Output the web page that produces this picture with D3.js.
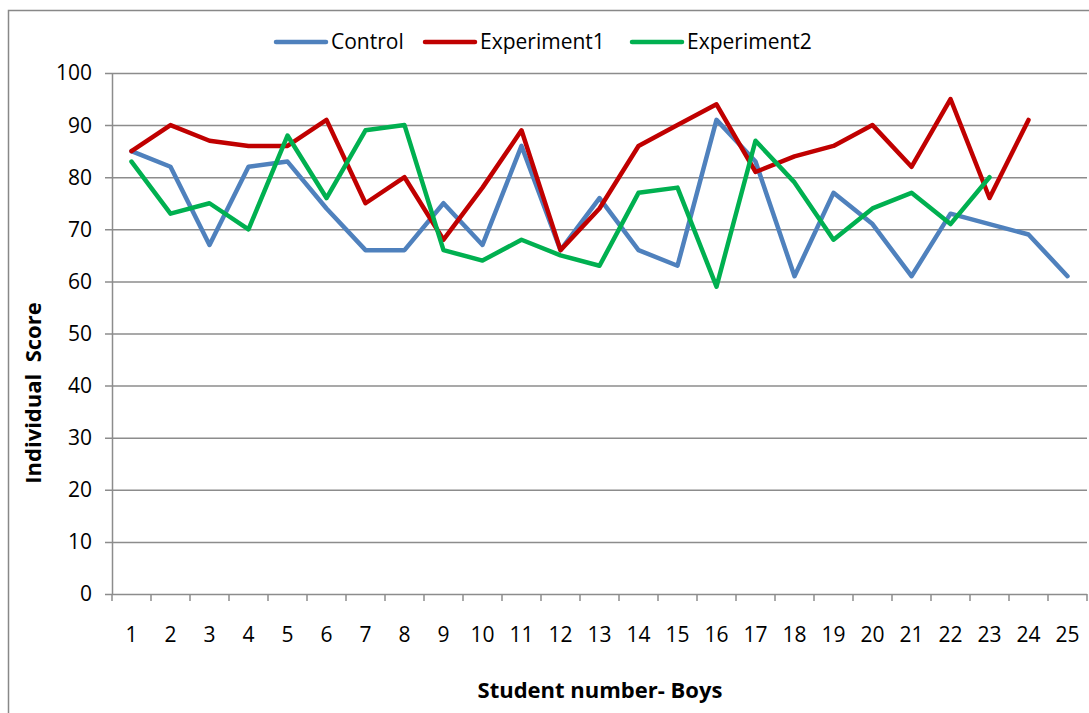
<!DOCTYPE html>
<html>
<head>
<meta charset="utf-8">
<script src="https://cdn.jsdelivr.net/npm/d3@7"></script>
<style>
  body { margin: 0; background: #fff; }
  text { font-family: "Open Sans", "Liberation Sans", sans-serif; fill: #000; white-space: pre; }
</style>
</head>
<body>
<div id="chart"></div>
<script>
var students = d3.range(1, 26);
var control = [85, 82, 67, 82, 83, 74, 66, 66, 75, 67, 86, 66, 76, 66, 63, 91, 83, 61, 77, 71, 61, 73, 71, 69, 61];
var experiment1 = [85, 90, 87, 86, 86, 91, 75, 80, 68, 78, 89, 66, 74, 86, 90, 94, 81, 84, 86, 90, 82, 95, 76, 91];
var experiment2 = [83, 73, 75, 70, 88, 76, 89, 90, 66, 64, 68, 65, 63, 77, 78, 59, 87, 79, 68, 74, 77, 71, 80];
var yTicks = d3.range(0, 101, 10);

var series = [
  { name: "Control", values: control, color: "#4F81BD" },
  { name: "Experiment1", values: experiment1, color: "#C00000" },
  { name: "Experiment2", values: experiment2, color: "#00B050" }
];

var width = 1089, height = 713;
var margin = { top: 73, right: 2, bottom: 119, left: 112 };

var svg = d3.select("#chart").append("svg")
  .attr("width", width)
  .attr("height", height);

// chart frame
svg.append("rect")
  .attr("x", 8.5).attr("y", 10.5)
  .attr("width", 1100).attr("height", 720)
  .attr("fill", "none")
  .attr("stroke", "#888")
  .attr("stroke-width", 1.5);

var x = d3.scaleBand()
  .domain(students)
  .range([margin.left, width - margin.right]);

var y = d3.scaleLinear()
  .domain([0, 100])
  .range([height - margin.bottom, margin.top]);

// gridlines
svg.append("g")
  .selectAll("line")
  .data(yTicks)
  .join("line")
    .attr("x1", margin.left - 7)
    .attr("x2", width - margin.right)
    .attr("y1", d => y(d) + 0.5)
    .attr("y2", d => y(d) + 0.5)
    .attr("stroke", "#8c8c8c")
    .attr("stroke-width", 1.5);

// y axis
var yAxis = d3.axisLeft(y)
  .tickValues(yTicks)
  .tickSize(0)
  .tickPadding(20);

svg.append("g")
  .attr("transform", "translate(" + margin.left + ",0)")
  .call(yAxis)
  .call(g => g.select(".domain").attr("stroke", "#8c8c8c").attr("stroke-width", 1.5))
  .call(g => g.selectAll("text").style("font-size", "21px").attr("dy", "0.33em"));

// x axis
var xAxis = d3.axisBottom(x)
  .tickSize(0)
  .tickPadding(33);

var xg = svg.append("g")
  .attr("transform", "translate(0," + (height - margin.bottom) + ")")
  .call(xAxis)
  .call(g => g.select(".domain").remove())
  .call(g => g.selectAll("text").style("font-size", "21px"));

xg.selectAll("line.sep")
  .data(students.concat([26]))
  .join("line")
    .attr("class", "sep")
    .attr("x1", d => d <= 25 ? x(d) : x(25) + x.bandwidth())
    .attr("x2", d => d <= 25 ? x(d) : x(25) + x.bandwidth())
    .attr("y1", 0)
    .attr("y2", 7)
    .attr("stroke", "#8c8c8c")
    .attr("stroke-width", 1.5);

// lines
var line = d3.line()
  .x((d, i) => x(students[i]) + x.bandwidth() / 2)
  .y(d => y(d));

svg.append("g")
  .selectAll("path")
  .data(series)
  .join("path")
    .attr("d", d => line(d.values))
    .attr("fill", "none")
    .attr("stroke", d => d.color)
    .attr("stroke-width", 4.5)
    .attr("stroke-linejoin", "round")
    .attr("stroke-linecap", "round");

// legend
var legendX = [276, 425, 632];
var legend = svg.append("g")
  .selectAll("g")
  .data(series)
  .join("g")
    .attr("transform", (d, i) => "translate(" + legendX[i] + ",42)");

legend.append("line")
  .attr("x1", 0).attr("x2", 50)
  .attr("stroke", d => d.color)
  .attr("stroke-width", 4.5)
  .attr("stroke-linecap", "round");

legend.append("text")
  .attr("x", 55)
  .attr("dy", "0.35em")
  .style("font-size", "21px")
  .text(d => d.name);

// axis titles
svg.append("text")
  .attr("transform", "translate(33,393) rotate(-90)")
  .attr("text-anchor", "middle")
  .attr("dy", "0.35em")
  .style("font-size", "22px")
  .style("font-weight", "bold")
  .text("Individual  Score");

svg.append("text")
  .attr("x", 600)
  .attr("y", 698)
  .attr("text-anchor", "middle")
  .style("font-size", "22px")
  .style("font-weight", "bold")
  .text("Student number- Boys");
</script>
</body>
</html>
